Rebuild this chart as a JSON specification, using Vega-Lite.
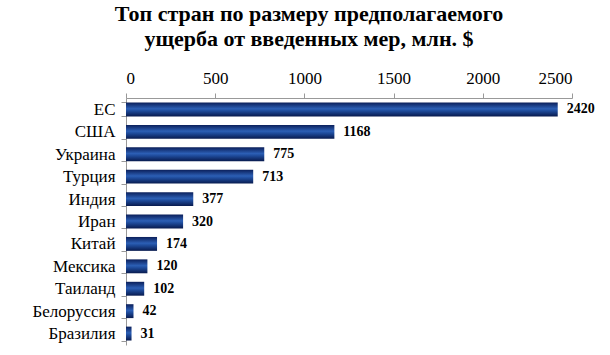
{
  "$schema": "https://vega.github.io/schema/vega-lite/v6.json",
  "autosize": "none",
  "width": 446,
  "height": 247,
  "padding": {"left": 126, "top": 98, "right": 38, "bottom": 10},
  "background": "white",
  "title": {
    "text": ["Топ стран по размеру предполагаемого", "ущерба от введенных мер, млн. $"],
    "font": "Liberation Serif",
    "fontSize": 22,
    "fontWeight": "bold",
    "color": "black",
    "anchor": "middle",
    "dx": -40,
    "offset": 18,
    "lineHeight": 25
  },
  "data": {
    "values": [
      {"country": "ЕС", "value": 2420},
      {"country": "США", "value": 1168},
      {"country": "Украина", "value": 775},
      {"country": "Турция", "value": 713},
      {"country": "Индия", "value": 377},
      {"country": "Иран", "value": 320},
      {"country": "Китай", "value": 174},
      {"country": "Мексика", "value": 120},
      {"country": "Таиланд", "value": 102},
      {"country": "Белоруссия", "value": 42},
      {"country": "Бразилия", "value": 31}
    ]
  },
  "encoding": {
    "y": {
      "field": "country",
      "type": "nominal",
      "sort": null,
      "scale": {"paddingInner": 0.38, "paddingOuter": 0.2},
      "axis": {
        "title": null,
        "labelPadding": 6,
        "tickBand": "extent",
        "tickSize": 5
      }
    },
    "x": {
      "field": "value",
      "type": "quantitative",
      "scale": {"domain": [0, 2500], "nice": false},
      "axis": {
        "orient": "top",
        "title": null,
        "format": "d",
        "values": [0, 500, 1000, 1500, 2000, 2500],
        "labelPadding": 6,
        "grid": false,
        "tickSize": 5
      }
    }
  },
  "layer": [
    {
      "mark": {
        "type": "bar",
        "color": {
          "gradient": "linear",
          "x1": 0, "y1": 0, "x2": 0, "y2": 1,
          "stops": [
            {"offset": 0, "color": "#0b1f5a"},
            {"offset": 0.45, "color": "#2c5fb5"},
            {"offset": 0.6, "color": "#1f4c9c"},
            {"offset": 1, "color": "#081a4e"}
          ]
        }
      }
    },
    {
      "mark": {
        "type": "text",
        "align": "left",
        "baseline": "middle",
        "dx": 9,
        "font": "Liberation Serif",
        "fontSize": 14,
        "fontWeight": "bold",
        "color": "black"
      },
      "encoding": {"text": {"field": "value", "type": "quantitative"}}
    }
  ],
  "config": {
    "view": {"stroke": null},
    "axis": {
      "labelFont": "Liberation Serif",
      "labelFontSize": 17,
      "labelColor": "black",
      "domainColor": "#999999",
      "tickColor": "#999999"
    }
  }
}
